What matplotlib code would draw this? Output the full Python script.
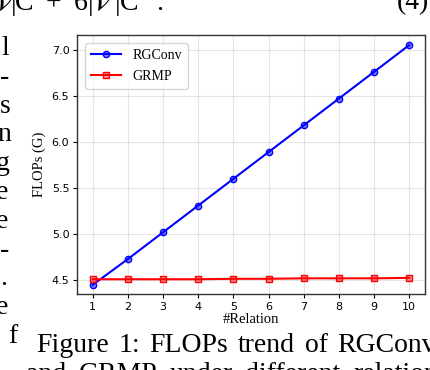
import numpy as np
import matplotlib.pyplot as plt

# data
relations = [1, 2, 3, 4, 5, 6, 7, 8, 9, 10]
rgconv = [4.45, 4.73, 5.02, 5.31, 5.60, 5.89, 6.18, 6.47, 6.76, 7.05]
grmp = [4.51, 4.51, 4.51, 4.51, 4.515, 4.515, 4.52, 4.52, 4.52, 4.525]

# surrounding page text
caption1 = ['Figure', '1:', 'FLOPs', 'trend', 'of', 'RGConv']
caption2 = ['and', 'GRMP', 'under', 'different', 'relation']
col_ends = ['l', '-', 's', 'n', 'g', 'e', 'e', '-', '.', 'e', 'f']
col_right = [9, 9, 11, 11, 10, 8, 8, 9, 7, 8, 17]
eq_parts = [r'$\mathcal{V}$', '|', 'C', '+', '6', '|', r'$\mathcal{V}$', '|', 'C', '.']
eq_x = [-7, 11, 15, 46, 74, 88, 91, 115, 120, 156]

plt.rcParams['mathtext.fontset'] = 'stix'
W, H = 430, 370
fig = plt.figure(figsize=(4.3, 3.7), dpi=100)
ax = fig.add_axes([77 / W, 1 - 294 / H, 348 / W, 259 / H])

ax.plot(relations, rgconv, color='blue', lw=1.5, marker='o', ms=4.5,
        mfc=(0, 0, 1, 0.5), mec='blue', label='RGConv')
ax.plot(relations, grmp, color='red', lw=1.5, marker='s', ms=4.5,
        mfc=(1, 0, 0, 0.4), mec='red', label='GRMP')

ax.set_xticks(relations)
ax.set_yticks([4.5, 5.0, 5.5, 6.0, 6.5, 7.0])
ax.set_ylim(4.35, 7.16)
ax.tick_params(labelsize=8, length=3, width=0.8, pad=2.5)
ax.grid(True, color='#cccccc', alpha=0.5, lw=0.8)
for s in ax.spines.values():
    s.set_color('#333333')
    s.set_linewidth(1.0)
ax.set_xlabel('#Relation', family='Liberation Serif', fontsize=10.5, labelpad=1)
ax.set_ylabel('FLOPs (G)', family='Liberation Serif', fontsize=10.5, labelpad=4)
ax.legend(loc='upper left', prop={'family': 'Liberation Serif', 'size': 10},
          borderaxespad=0.6, handlelength=2.2, labelspacing=0.6)

# page text around the chart
serif = {'family': 'Liberation Serif', 'fontsize': 20, 'color': 'black'}
for part, x in zip(eq_parts, eq_x):
    fig.text(x / W, 1 - 10 / H, part, ha='left', va='baseline', **serif)
fig.text(429 / W, 1 - 9 / H, '(4)', ha='right', va='baseline', **serif)
for i, (ch, x) in enumerate(zip(col_ends, col_right)):
    fig.text(x / W, 1 - (55 + i * 28.8) / H, ch, ha='right', va='baseline', **serif)

renderer = fig.canvas.get_renderer()


def justify(words, x0, x1, y):
    # justified line: spread the words so they fill x0..x1 (pixels)
    texts = [fig.text(0, 1 - y / H, w, ha='left', va='baseline', **serif) for w in words]
    widths = [t.get_window_extent(renderer).width for t in texts]
    gap = (x1 - x0 - sum(widths)) / (len(words) - 1)
    x = x0
    for t, w in zip(texts, widths):
        t.set_x(x / W)
        x += w + gap


justify(caption1, 36, 436, 352)
justify(caption2, 26, 438, 381)

fig.savefig('out.png', dpi=100)
